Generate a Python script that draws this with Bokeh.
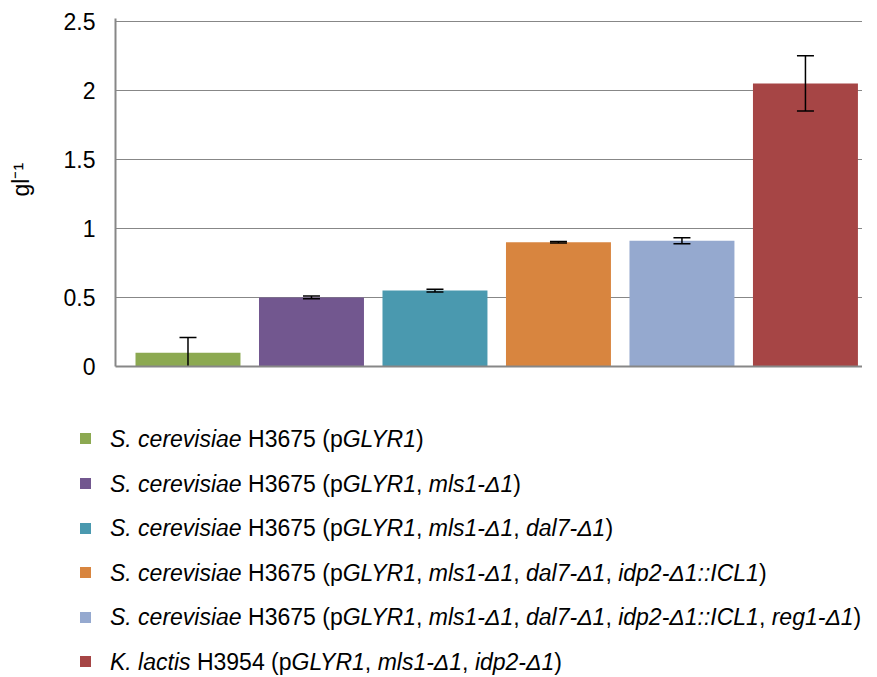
import re
from bokeh.plotting import figure
from bokeh.layouts import column
from bokeh.models import Range1d, FixedTicker, Div
from bokeh.embed import file_html
from bokeh.resources import INLINE

# ---------------- data ----------------
legend_labels = [
    "<i>S. cerevisiae</i> H3675 (p<i>GLYR1</i>)",
    "<i>S. cerevisiae</i> H3675 (p<i>GLYR1</i>, <i>mls1-Δ1</i>)",
    "<i>S. cerevisiae</i> H3675 (p<i>GLYR1</i>, <i>mls1-Δ1</i>, <i>dal7-Δ1</i>)",
    "<i>S. cerevisiae</i> H3675 (p<i>GLYR1</i>, <i>mls1-Δ1</i>, <i>dal7-Δ1</i>, <i>idp2-Δ1::ICL1</i>)",
    "<i>S. cerevisiae</i> H3675 (p<i>GLYR1</i>, <i>mls1-Δ1</i>, <i>dal7-Δ1</i>, <i>idp2-Δ1::ICL1</i>, <i>reg1-Δ1</i>)",
    "<i>K. lactis</i> H3954 (p<i>GLYR1</i>, <i>mls1-Δ1</i>, <i>idp2-Δ1</i>)",
]
values = [0.10, 0.50, 0.55, 0.90, 0.91, 2.05]
err_up = [0.11, 0.01, 0.01, 0.006, 0.022, 0.20]
err_down = [0.10, 0.01, 0.01, 0.006, 0.022, 0.20]
colors = ["#8CA951", "#72578F", "#4A99AF", "#D8853F", "#95A9CF", "#A64545"]
y_ticks = [0.0, 0.5, 1.0, 1.5, 2.0, 2.5]
y_tick_labels = ["0", "0.5", "1", "1.5", "2", "2.5"]
y_label = "gl⁻¹"

FONT = "Liberation Sans"
FS = 23

# layout (canvas pixels)
W_PX, CHART_H, LEG_H = 862, 400, 277
FRAME_L, FRAME_T, FRAME_B = 115, 18, 366

# ---------------- chart ----------------
xs = list(range(len(values)))
p = figure(width=W_PX, height=CHART_H, x_range=Range1d(-0.587, 5.462), y_range=Range1d(0, 2.52),
           output_backend="svg", toolbar_location=None,
           min_border_left=FRAME_L, min_border_right=0,
           min_border_top=FRAME_T, min_border_bottom=CHART_H - FRAME_B)
p.outline_line_color = None
p.background_fill_color = "white"

p.vbar(x=xs, top=values, width=0.85, fill_color=colors, line_color=None)

upper = [v + e for v, e in zip(values, err_up)]
lower = [max(0.0, v - e) for v, e in zip(values, err_down)]
p.segment(x0=xs, y0=lower, x1=xs, y1=upper, line_color="#000000", line_width=1.5)
p.scatter(x=xs, y=upper, marker="dash", size=17, line_color="#000000", line_width=1.5)
lx = [x for x, l in zip(xs, lower) if l > 0.001]
ly = [l for l in lower if l > 0.001]
p.scatter(x=lx, y=ly, marker="dash", size=17, line_color="#000000", line_width=1.5)

p.xgrid.visible = False
p.ygrid.ticker = FixedTicker(ticks=y_ticks)
p.ygrid.grid_line_color = "#878787"
p.ygrid.grid_line_width = 1.2
p.ygrid.level = "underlay"

p.xaxis.ticker = FixedTicker(ticks=[])
p.xaxis.major_label_text_font_size = "0px"
p.xaxis.axis_line_color = "#878787"
p.xaxis.axis_line_width = 2
p.xaxis.major_tick_line_color = None
p.xaxis.minor_tick_line_color = None

yax = p.yaxis[0]
yax.ticker = FixedTicker(ticks=y_ticks)
yax.major_label_overrides = {t: l for t, l in zip(y_ticks, y_tick_labels)}
yax.bounds = (0, 2.52)
yax.axis_line_color = "#878787"
yax.axis_line_width = 2
yax.major_tick_line_color = None
yax.minor_tick_line_color = None
yax.major_label_standoff = 14
yax.major_label_text_font = FONT
yax.major_label_text_font_size = f"{FS}px"
yax.major_label_text_color = "#000000"
yax.axis_label = "\u00a0" * 4 + y_label
yax.axis_label_text_font = FONT
yax.axis_label_text_font_size = f"{FS}px"
yax.axis_label_text_font_style = "normal"
yax.axis_label_text_color = "#000000"
yax.axis_label_standoff = 27

# ---------------- legend (below the plot area) ----------------
row0 = 438.8      # canvas y of first legend square centre
step = 44.6
sq_x0, sq_size = 80, 11
text_x0 = 110
base_off = 8.7
asc = 19.5        # baseline offset inside a 1em line box

parts = []
for i, (lab, col) in enumerate(zip(legend_labels, colors)):
    cy = row0 + i * step - CHART_H
    parts.append(
        f'<div style="position:absolute;left:{sq_x0}px;top:{cy - sq_size / 2:.1f}px;'
        f'width:{sq_size}px;height:{sq_size}px;background:{col};"></div>')
    parts.append(
        f'<div style="position:absolute;left:{text_x0}px;top:{cy + base_off - asc:.1f}px;'
        f'white-space:nowrap;line-height:{FS}px;">{lab}</div>')

html = (f'<div style="position:relative;width:{W_PX}px;height:{LEG_H}px;overflow:hidden;'
        f'font-family:\'{FONT}\',Arial,sans-serif;font-size:{FS}px;color:#000;margin:0;padding:0;">'
        + "".join(parts) + "</div>")
legend_div = Div(text=html, width=W_PX, height=LEG_H, margin=0)

layout = column(p, legend_div, spacing=0)
open("out.html", "w").write(file_html(layout, INLINE))
